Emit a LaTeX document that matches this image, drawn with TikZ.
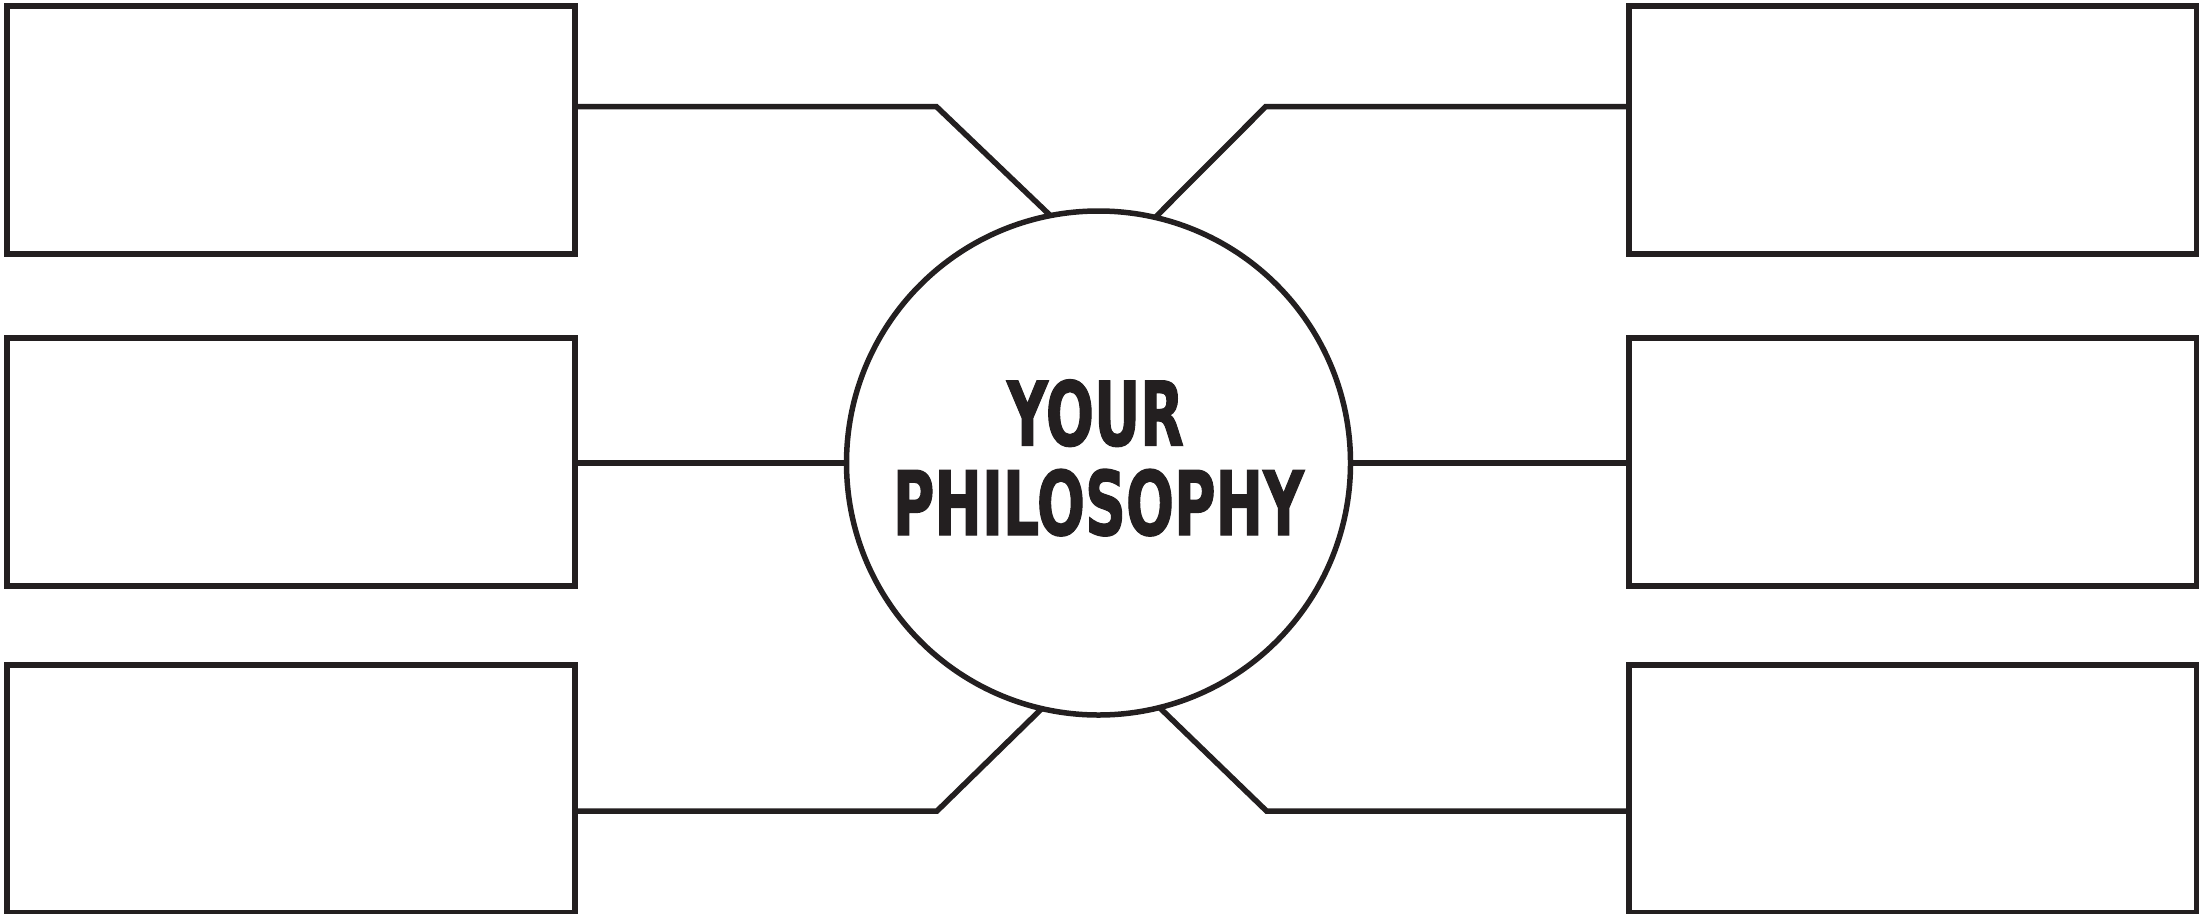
\documentclass[tikz,border=0pt]{standalone}
\usepackage{graphicx}
\usepackage{fontspec}
\newfontfamily\phfont[FakeBold=1.5]{DejaVu Sans Condensed Bold}
\definecolor{ink}{RGB}{35,31,32}
\begin{document}
\begin{tikzpicture}[x=1pt,y=-1pt,
  boxnode/.style={draw=ink, line width=6pt, rectangle, inner sep=0pt, outer sep=0pt,
    minimum width=567.5pt, minimum height=248pt},
  conn/.style={draw=ink, line width=5.5pt},
  hub/.style={draw=ink, line width=5.5pt, circle, inner sep=0pt, outer sep=0pt, minimum size=504pt},
  phtext/.style={inner sep=0pt, outer sep=0pt, text=ink, anchor=base}]
\useasboundingbox (0,0) rectangle (2199,913);
\fill[white] (0,0) rectangle (2199,913);
% boxes
\node[boxnode] (lt) at (291.2,130.4) {};
\node[boxnode] (lm) at (291.2,462) {};
\node[boxnode] (lb) at (291.2,788.6) {};
\node[boxnode] (rt) at (1913.2,130.4) {};
\node[boxnode] (rm) at (1913.2,462) {};
\node[boxnode] (rb) at (1913.2,788.6) {};
% central circle
\node[hub] (c) at (1098.5,463) {};
% knees
\coordinate (klt) at (936.5,106.7);
\coordinate (krt) at (1265.6,106.7);
\coordinate (klb) at (937,811);
\coordinate (krb) at (1266.5,811);
% connectors
\draw[conn] (lt.east |- klt) -- (klt) -- (c.101.5);
\draw[conn] (rt.west |- krt) -- (krt) -- (c.77);
\draw[conn] (lb.east |- klb) -- (klb) -- (c.257);
\draw[conn] (rb.west |- krb) -- (krb) -- (c.284);
\draw[conn] (lm.east |- c.west) -- (c.west);
\draw[conn] (rm.west |- c.east) -- (c.east);
% text
\node[phtext] (t1) at (1095.4,445.5) {\resizebox{177pt}{66pt}{\phfont YOUR}};
\node[phtext] (t2) at (1098.5,535) {\resizebox{411pt}{66pt}{\phfont PHILOSOPHY}};
\end{tikzpicture}
\end{document}
